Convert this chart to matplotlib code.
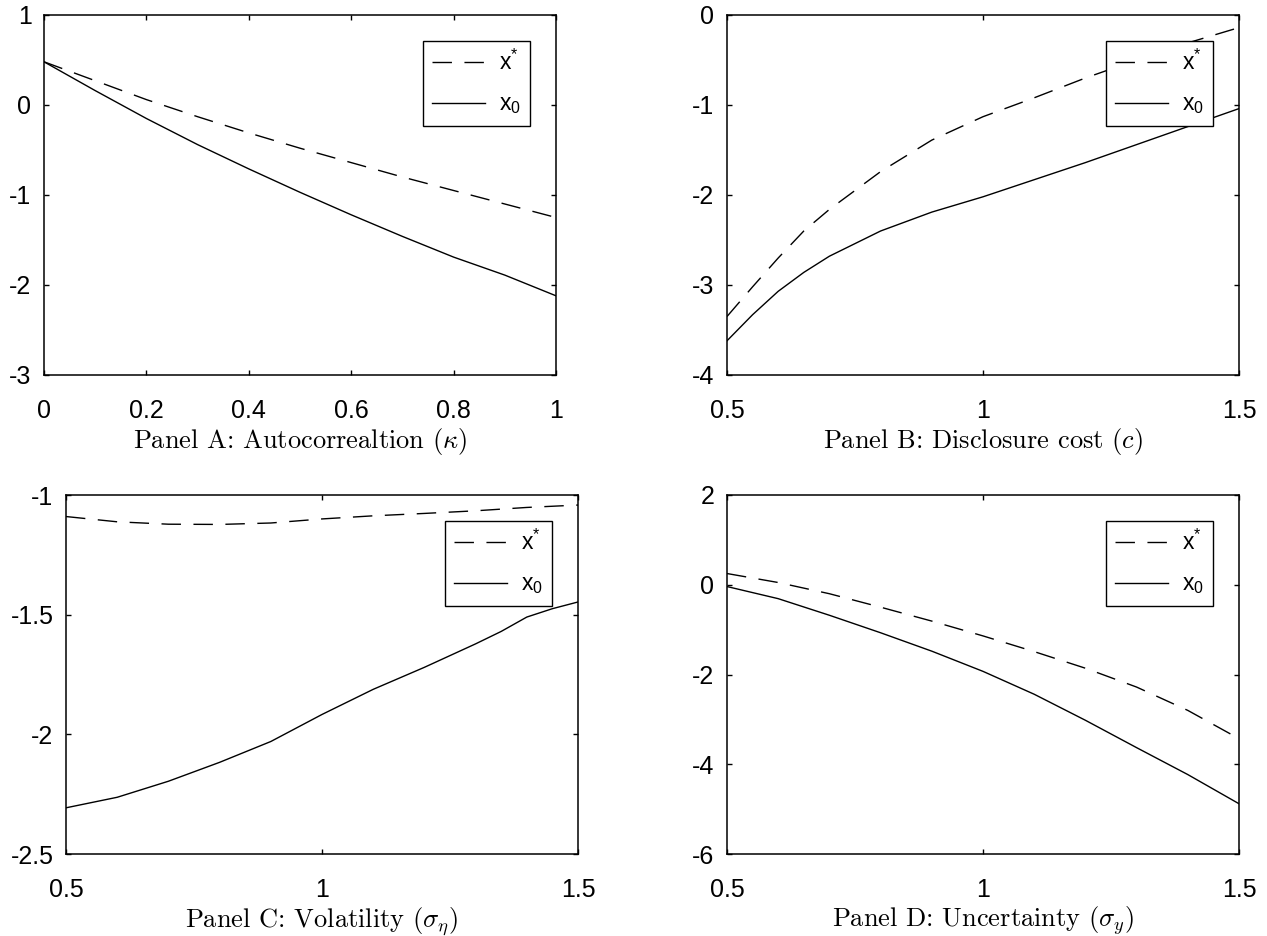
import matplotlib
matplotlib.use("Agg")
import matplotlib.pyplot as plt
from matplotlib.font_manager import FontProperties

plt.rcParams['font.family'] = ['Liberation Sans', 'DejaVu Sans']
plt.rcParams['axes.unicode_minus'] = False
plt.rcParams['mathtext.fontset'] = 'custom'
plt.rcParams['mathtext.rm'] = 'Liberation Sans'
plt.rcParams['mathtext.it'] = 'Liberation Sans:italic'
plt.rcParams['mathtext.bf'] = 'Liberation Sans:bold'

# Panel A: autocorrelation kappa
kappa = [0.0, 0.1, 0.2, 0.3, 0.4, 0.5, 0.6, 0.7, 0.8, 0.9, 1.0]
a_xstar = [0.48, 0.27, 0.06, -0.13, -0.31, -0.48, -0.64, -0.80, -0.95, -1.10, -1.25]
a_x0 = [0.48, 0.16, -0.15, -0.44, -0.71, -0.97, -1.22, -1.46, -1.69, -1.89, -2.12]

# Panel B: disclosure cost c
cost = [0.5, 0.55, 0.6, 0.65, 0.7, 0.8, 0.9, 1.0, 1.1, 1.2, 1.3, 1.4, 1.5]
b_xstar = [-3.35, -3.02, -2.70, -2.40, -2.16, -1.74, -1.39, -1.13, -0.92, -0.70, -0.50, -0.31, -0.14]
b_x0 = [-3.62, -3.33, -3.07, -2.86, -2.68, -2.40, -2.19, -2.02, -1.83, -1.64, -1.44, -1.24, -1.04]

# Panel C: volatility sigma_eta
sig_eta = [0.5, 0.6, 0.7, 0.8, 0.9, 1.0, 1.1, 1.2, 1.3, 1.35, 1.4, 1.45, 1.5]
c_xstar = [-1.090, -1.112, -1.122, -1.123, -1.117, -1.100, -1.087, -1.077, -1.066, -1.059, -1.052, -1.047, -1.042]
c_x0 = [-2.307, -2.263, -2.196, -2.117, -2.030, -1.917, -1.812, -1.720, -1.622, -1.570, -1.510, -1.475, -1.447]

# Panel D: uncertainty sigma_y
sig_y = [0.5, 0.6, 0.7, 0.8, 0.9, 1.0, 1.1, 1.2, 1.3, 1.4, 1.5]
d_xstar = [0.25, 0.05, -0.20, -0.50, -0.81, -1.14, -1.49, -1.86, -2.28, -2.80, -3.43]
d_x0 = [-0.04, -0.31, -0.68, -1.07, -1.48, -1.93, -2.44, -3.02, -3.63, -4.23, -4.88]

panels = [
    dict(x=kappa, xs=a_xstar, x0=a_x0, xlim=(0, 1), ylim=(-3, 1),
         xticks=[0, 0.2, 0.4, 0.6, 0.8, 1], xtl=['0', '0.2', '0.4', '0.6', '0.8', '1'],
         yticks=[-3, -2, -1, 0, 1], ytl=['-3', '-2', '-1', '0', '1'],
         title=r'Panel A: Autocorrealtion ($\kappa$)', rect=(44, 15, 512, 360)),
    dict(x=cost, xs=b_xstar, x0=b_x0, xlim=(0.5, 1.5), ylim=(-4, 0),
         xticks=[0.5, 1, 1.5], xtl=['0.5', '1', '1.5'],
         yticks=[-4, -3, -2, -1, 0], ytl=['-4', '-3', '-2', '-1', '0'],
         title=r'Panel B: Disclosure cost ($c$)', rect=(727, 15, 512, 360)),
    dict(x=sig_eta, xs=c_xstar, x0=c_x0, xlim=(0.5, 1.5), ylim=(-2.5, -1),
         xticks=[0.5, 1, 1.5], xtl=['0.5', '1', '1.5'],
         yticks=[-2.5, -2, -1.5, -1], ytl=['-2.5', '-2', '-1.5', '-1'],
         title=r'Panel C: Volatility ($\sigma_\eta$)', rect=(66, 495, 512, 359)),
    dict(x=sig_y, xs=d_xstar, x0=d_x0, xlim=(0.5, 1.5), ylim=(-6, 2),
         xticks=[0.5, 1, 1.5], xtl=['0.5', '1', '1.5'],
         yticks=[-6, -4, -2, 0, 2], ytl=['-6', '-4', '-2', '0', '2'],
         title=r'Panel D: Uncertainty ($\sigma_y$)', rect=(727, 495, 512, 359)),
]

W, H = 1267, 936
fig = plt.figure(figsize=(W / 100, H / 100), dpi=100)

for p in panels:
    l, t, w, h = p['rect']
    ax = fig.add_axes([l / W, (H - t - h) / H, w / W, h / H])
    ax.plot(p['x'], p['xs'], color='black', lw=1.0, ls=(0, (14, 9)), label=r'x$^{*}$')
    ax.plot(p['x'], p['x0'], color='black', lw=1.0, label=r'x$_{0}$')
    ax.set_xlim(p['xlim'])
    ax.set_ylim(p['ylim'])
    ax.set_xticks(p['xticks'])
    ax.set_xticklabels(p['xtl'])
    ax.set_yticks(p['yticks'])
    ax.set_yticklabels(p['ytl'])
    ax.tick_params(direction='in', length=3.6, width=1.0, top=True, right=True, labelsize=18)
    ax.tick_params(axis='x', pad=17)
    ax.tick_params(axis='y', pad=9)
    for s in ax.spines.values():
        s.set_linewidth(1.1)
    leg = ax.legend(loc='upper right', bbox_to_anchor=(1 - 26 / w, 1 - 26 / h),
                    borderaxespad=0, fancybox=False, framealpha=1, edgecolor='black',
                    prop=FontProperties(family='Liberation Sans', size=16.5),
                    handlelength=2.3, handletextpad=0.6, borderpad=0.4, labelspacing=0.75)
    leg.get_frame().set_linewidth(1.0)
    ax.text(0.5, -73 / h, p['title'], transform=ax.transAxes, ha='center', va='baseline',
            fontfamily='cmr10', fontsize=19, math_fontfamily='cm')

fig.savefig('out.png', dpi=100)
